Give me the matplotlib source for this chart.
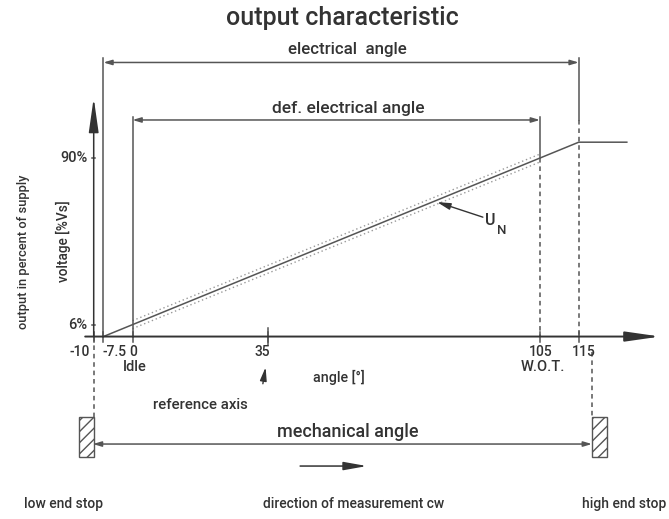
import matplotlib
matplotlib.use("Agg")
import matplotlib.pyplot as plt
from matplotlib.patches import Rectangle

plt.rcParams['font.family'] = ['Roboto', 'DejaVu Sans']
plt.rcParams['font.weight'] = 'medium'

# characteristic (angle in deg, output in % of supply)
curve_angle = [-7.5, 115, 127.4]
curve_pct = [0, 98, 98]
tol_angle = [0, 105]
tol_pct = [6, 90]
tol_band = 2.0

# key angles
a_low_stop = -10
a_el_start = -7.5
a_idle = 0
a_ref = 35
a_wot = 105
a_el_end = 115
a_high_stop = 118.4

xtick_vals = [-10, -7.5, 0, 35, 105, 115]
xtick_text = ['-10', '-7.5', '0', '35', '105', '115']
ytick_vals = [6, 90]
ytick_text = ['6%', '90%']

line_c = '#555555'
text_c = '#333333'
lw = 1.1

fig = plt.figure(figsize=(6.69, 5.19), dpi=100)
ax = fig.add_axes([0, 0, 1, 1])
ax.set_xlim(-34.15, 138.27)
ax.set_ylim(-92.0, 169.7)
ax.axis('off')

# curve + tolerance band
ax.plot(curve_angle, curve_pct, color=line_c, lw=lw)
ax.plot(tol_angle, [p + tol_band for p in tol_pct], color='#999999', lw=1.0, ls=(0, (1, 2)))
ax.plot(tol_angle, [p - tol_band for p in tol_pct], color='#999999', lw=1.0, ls=(0, (1, 2)))

# x axis with arrow
ax.annotate('', xy=(136, 0), xytext=(-12.2, 0),
            arrowprops=dict(arrowstyle='-|>,head_length=2.1,head_width=0.3',
                            mutation_scale=10, color='#333333', lw=1.4,
                            shrinkA=0, shrinkB=0))
# y axis with arrow
ax.annotate('', xy=(a_low_stop, 120.3), xytext=(a_low_stop, 0),
            arrowprops=dict(arrowstyle='-|>,head_length=2.1,head_width=0.3',
                            mutation_scale=10, color='#333333', lw=1.1,
                            shrinkA=0, shrinkB=0))
ax.plot([a_low_stop, a_low_stop], [0, -40.6], color=line_c, lw=lw, ls=(0, (3, 2.5)))

# extension lines
ax.plot([a_el_start, a_el_start], [0, 140.4], color=line_c, lw=lw)
ax.plot([a_idle, a_idle], [0, 110.7], color=line_c, lw=lw)
ax.plot([a_wot, a_wot], [110.7, 90], color=line_c, lw=lw)
ax.plot([a_wot, a_wot], [90, 0], color=line_c, lw=lw, ls=(0, (3, 2.5)))
ax.plot([a_el_end, a_el_end], [140.4, 109], color=line_c, lw=lw)
ax.plot([a_el_end, a_el_end], [109, 0], color=line_c, lw=lw, ls=(0, (3, 2.5)))
ax.plot([a_high_stop, a_high_stop], [-8, -40.6], color=line_c, lw=lw, ls=(0, (3, 2.5)))


def dim(x0, x1, y):
    ax.annotate('', xy=(x1, y), xytext=(x0, y),
                arrowprops=dict(arrowstyle='<|-|>,head_length=0.5,head_width=0.15',
                                mutation_scale=10, color=line_c, lw=lw,
                                shrinkA=0, shrinkB=0))


dim(a_el_start, a_el_end, 138.2)
dim(a_idle, a_wot, 109.2)
dim(a_low_stop - 0.2, a_high_stop, -54.2)

ax.text(55.5, 144.7, 'electrical  angle', ha='center', va='center', fontsize=12.2, color=text_c)
ax.text(55.5, 115.2, 'def. electrical angle', ha='center', va='center', fontsize=12.5, color=text_c)
ax.text(55.5, -48.2, 'mechanical angle', ha='center', va='center', fontsize=13, color=text_c)
ax.text(54.0, 160.4, 'output characteristic', ha='center', va='center', fontsize=18, color=text_c)

# ticks
for xv in xtick_vals:
    ax.plot([xv, xv], [-2.5, 2.5], color=line_c, lw=lw)
ax.plot([a_ref, a_ref], [-4.5, 4.5], color=line_c, lw=lw)
for yv in ytick_vals:
    ax.plot([a_low_stop - 0.4, a_low_stop + 0.4], [yv, yv], color=line_c, lw=lw)

tick_pos = {'-10': (-10.9, 'right'), '-7.5': (-7.7, 'left'), '0': (0.3, 'center'),
            '35': (33.5, 'center'), '105': (105.3, 'center'), '115': (116.2, 'center')}
for xv, tx in zip(xtick_vals, xtick_text):
    px, ha = tick_pos[tx]
    ax.text(px, -8.0, tx, ha=ha, va='center', fontsize=10, color=text_c)
ax.text(0.6, -15.6, 'Idle', ha='center', va='center', fontsize=10.5, color=text_c)
ax.text(105.8, -15.6, 'W.O.T.', ha='center', va='center', fontsize=10.5, color=text_c)
for yv, tx in zip(ytick_vals, ytick_text):
    ax.text(-11.6, yv, tx, ha='right', va='center', fontsize=10.5, color=text_c)

ax.text(53.2, -20.7, 'angle [°]', ha='center', va='center', fontsize=10.3, color=text_c)
ax.text(17.4, -34.5, 'reference axis', ha='center', va='center', fontsize=10.8, color=text_c)
ax.annotate('', xy=(34.3, -15.5), xytext=(33.6, -23.8),
            arrowprops=dict(arrowstyle='-|>,head_length=0.8,head_width=0.2',
                            mutation_scale=10, color='#333333', lw=1.0,
                            shrinkA=0, shrinkB=0))

ax.text(-17.9, 48, 'voltage [%Vs]', ha='center', va='center', rotation=90, fontsize=9.8, color=text_c)
ax.text(-28.2, 42.6, 'output in percent of supply', ha='center', va='center', rotation=90,
        fontsize=9.3, color=text_c)

# U_N label
ax.annotate('', xy=(78.5, 67.8), xytext=(90.3, 60.2),
            arrowprops=dict(arrowstyle='-|>,head_length=0.8,head_width=0.2',
                            mutation_scale=10, color='#333333', lw=1.0,
                            shrinkA=0, shrinkB=0))
ax.text(90.8, 58.5, 'U', ha='left', va='center', fontsize=11.5, color=text_c)
ax.text(93.9, 53.5, 'N', ha='left', va='center', fontsize=9.5, color=text_c)

# end stops
for x0 in [-13.8, a_high_stop]:
    ax.add_patch(Rectangle((x0, -60.8), 3.8, 20.2, facecolor='white', edgecolor=line_c,
                           hatch='///', lw=1.0))

# direction of measurement
ax.annotate('', xy=(60.4, -65.3), xytext=(43.2, -65.3),
            arrowprops=dict(arrowstyle='-|>,head_length=1.4,head_width=0.25',
                            mutation_scale=10, color='#333333', lw=1.1,
                            shrinkA=0, shrinkB=0))

ax.text(-17.7, -84.5, 'low end stop', ha='center', va='center', fontsize=10, color=text_c)
ax.text(57.0, -84.5, 'direction of measurement cw', ha='center', va='center', fontsize=10, color=text_c)
ax.text(137.6, -84.5, 'high end stop', ha='right', va='center', fontsize=10, color=text_c)

fig.savefig('out.png', dpi=100)
